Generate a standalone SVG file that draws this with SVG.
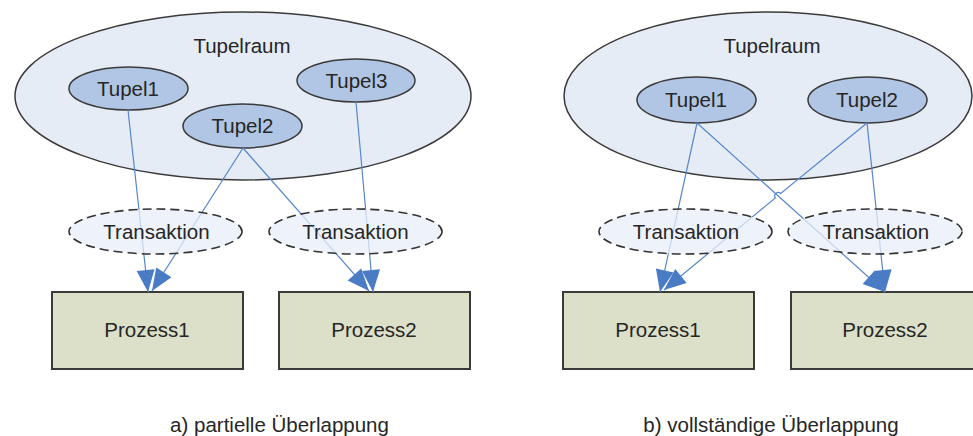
<svg xmlns="http://www.w3.org/2000/svg" width="973" height="436" viewBox="0 0 973 436">
  <style>
    text { font-family: "Liberation Sans", Arial, sans-serif; font-size: 20.5px; fill: #262626; text-anchor: middle; }
    .space { fill: #e6ecf6; stroke: #3a3a3a; stroke-width: 1.5; }
    .tuple { fill: #b1c6e4; stroke: #3a3a3a; stroke-width: 1.5; }
    .tx { fill: #e8edf8; fill-opacity: 0.75; stroke: #333; stroke-width: 1.6; stroke-dasharray: 9 5; }
    .proc { fill: #dde0c9; stroke: #3a3a3a; stroke-width: 2; }
    .edge { fill: none; stroke: #5686cc; stroke-width: 1.2; marker-end: url(#head); }
  </style>
  <defs>
    <marker id="head" markerUnits="userSpaceOnUse" markerWidth="24" markerHeight="20" refX="22" refY="9" orient="auto" overflow="visible">
      <path d="M0,0 L22,9 L0,18 z" fill="#4a7cc6"/>
    </marker>
  </defs>

  <rect width="973" height="436" fill="#ffffff"/>

  <!-- a) partial overlap -->
  <g id="a-tupelraum">
    <ellipse class="space" cx="243" cy="96" rx="228" ry="84"/>
    <text x="242" y="53">Tupelraum</text>
  </g>
  <g id="a-tupel1">
    <ellipse class="tuple" cx="128.5" cy="88.5" rx="59.5" ry="21.5"/>
    <text x="128" y="96">Tupel1</text>
  </g>
  <g id="a-tupel2">
    <ellipse class="tuple" cx="242.5" cy="126" rx="59.5" ry="22"/>
    <text x="242.5" y="133">Tupel2</text>
  </g>
  <g id="a-tupel3">
    <ellipse class="tuple" cx="356" cy="80.5" rx="59" ry="21.5"/>
    <text x="356.5" y="88">Tupel3</text>
  </g>
  <g id="a-prozess1">
    <rect class="proc" x="52" y="292" width="191" height="77"/>
    <text x="147" y="337">Prozess1</text>
  </g>
  <g id="a-prozess2">
    <rect class="proc" x="279" y="292" width="191" height="77"/>
    <text x="374" y="337">Prozess2</text>
  </g>

  <!-- b) full overlap -->
  <g id="b-tupelraum">
    <ellipse class="space" cx="768" cy="96" rx="204" ry="84"/>
    <text x="772" y="53">Tupelraum</text>
  </g>
  <g id="b-tupel1">
    <ellipse class="tuple" cx="696.5" cy="100" rx="59.5" ry="23"/>
    <text x="696" y="107">Tupel1</text>
  </g>
  <g id="b-tupel2">
    <ellipse class="tuple" cx="867.5" cy="100" rx="59.5" ry="23"/>
    <text x="867" y="107">Tupel2</text>
  </g>
  <g id="b-prozess1">
    <rect class="proc" x="563" y="292" width="191" height="77"/>
    <text x="658" y="337">Prozess1</text>
  </g>
  <g id="b-prozess2">
    <rect class="proc" x="791" y="292" width="191" height="77"/>
    <text x="885" y="337">Prozess2</text>
  </g>

  <!-- connectors -->
  <g id="connectors">
    <path class="edge" d="M128,110 L148,292"/>
    <path class="edge" d="M243,148 L152,291"/>
    <path class="edge" d="M243,148 L369,291"/>
    <path class="edge" d="M356,102 L373,292"/>

    <path class="edge" d="M697,123 L660,292"/>
    <path class="edge" d="M697,123 L885,292"/>
    <path class="edge" d="M867,123 L780.7,193.5 A3.5,3.5 0 0 0 775.3,197.9 L664,290"/>
    <path class="edge" d="M867,123 L885,292"/>
  </g>

  <!-- transactions, drawn over the connectors -->
  <g id="a-transaktion1">
    <ellipse class="tx" cx="155.5" cy="231.5" rx="86.5" ry="22.5"/>
    <text x="156.5" y="239">Transaktion</text>
  </g>
  <g id="a-transaktion2">
    <ellipse class="tx" cx="355.5" cy="231.5" rx="86.5" ry="22.5"/>
    <text x="355.5" y="239">Transaktion</text>
  </g>
  <g id="b-transaktion1">
    <ellipse class="tx" cx="685.5" cy="231.5" rx="86.5" ry="22.5"/>
    <text x="686" y="239">Transaktion</text>
  </g>
  <g id="b-transaktion2">
    <ellipse class="tx" cx="875" cy="231.5" rx="87" ry="22.5"/>
    <text x="876" y="239">Transaktion</text>
  </g>

  <g id="captions">
    <text x="279.5" y="432">a) partielle Überlappung</text>
    <text x="771" y="432">b) vollständige Überlappung</text>
  </g>
</svg>
